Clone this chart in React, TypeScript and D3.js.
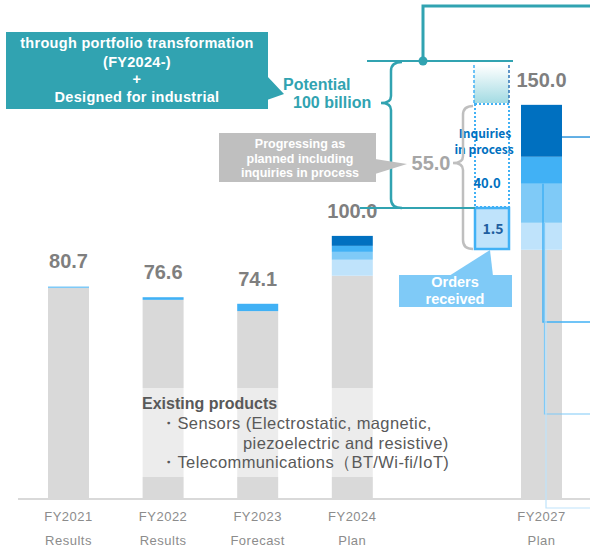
import React from "react";
import * as d3 from "d3";

// ---- data ----
const slots = ["FY2021", "FY2022", "FY2023", "FY2024", "", "FY2027"];
const categories = ["FY2021", "FY2022", "FY2023", "FY2024", "FY2027"];
const periodLabels = ["Results", "Results", "Forecast", "Plan", "Plan"];
const existing = [80.1, 75.6, 71.3, 84.8, 94.7];
const newLightest = [0, 0, 0, 6.1, 10.3];
const newLight = [0.6, 0, 0, 3.0, 14.9];
const newMedium = [0, 1.0, 2.8, 2.3, 10.3];
const newDark = [0, 0, 0, 3.8, 19.8];
const totalLabels = ["80.7", "76.6", "74.1", "100.0", "150.0"];
const seriesKeys = ["existing", "lightest", "light", "medium", "dark"];
const seriesColors = ["#d9d9d9", "#bfe3fb", "#7fcaf7", "#41b1f5", "#0070c0"];

const TEAL = "#31a3b1";
const W = 590;
const H = 549;

export default function App() {
  const rows = categories.map((c, i) => ({
    cat: c,
    existing: existing[i],
    lightest: newLightest[i],
    light: newLight[i],
    medium: newMedium[i],
    dark: newDark[i],
  }));
  const stacked = d3.stack<any>().keys(seriesKeys)(rows);
  const x = d3.scalePoint<string>().domain(slots).range([68.5, 541.5]);
  const y = d3.scaleLinear().domain([0, 190]).range([498, 0]);
  const bw = 41;
  const totals = rows.map((r) => seriesKeys.reduce((s, k) => s + (r as any)[k], 0));

  const font = "'Liberation Sans', Arial, sans-serif";
  const jfont = "'Noto Sans CJK JP', 'Noto Sans', sans-serif";

  const x27 = x("FY2027")!;
  const top27 = stacked.map((s) => s[4]);
  const darkLeaderY = y(top27[4][0] + 0.38 * (top27[4][1] - top27[4][0]));

  return (
    <svg width={W} height={H} style={{ position: "absolute", left: 0, top: 0, background: "#fff" }}>
      <defs>
        <clipPath id="titleClip">
          <rect x={6} y={32} width={262} height={77} />
        </clipPath>
        <linearGradient id="potGrad" x1="0" y1="0" x2="0" y2="1">
          <stop offset="0" stopColor="#ffffff" />
          <stop offset="1" stopColor="#a3dbe3" />
        </linearGradient>
      </defs>

      {/* axis line */}
      <line x1={18} x2={590} y1={y(0) + 1} y2={y(0) + 1} stroke="#d9d9d9" strokeWidth={2} />

      {/* bars */}
      {stacked.map((s, si) =>
        s.map((d, i) =>
          d[1] - d[0] > 0 ? (
            <rect
              key={`${si}-${i}`}
              x={x(categories[i])! - bw / 2}
              y={y(d[1])}
              width={bw}
              height={y(d[0]) - y(d[1])}
              fill={seriesColors[si]}
            />
          ) : null
        )
      )}

      {/* total labels */}
      {categories.map((c, i) => (
        <text
          key={c}
          x={x(c)!}
          y={y(totals[i]) - 18}
          textAnchor="middle"
          fontFamily={font}
          fontWeight="bold"
          fontSize={20}
          fill="#7f7f7f"
        >
          {totalLabels[i]}
        </text>
      ))}

      {/* axis labels */}
      {categories.map((c, i) => (
        <g key={"ax" + c} fontFamily={font} fontSize={13} fill="#8c8c8c" textAnchor="middle" letterSpacing={0.5}>
          <text x={x(c)!} y={521}>{c}</text>
          <text x={x(c)!} y={545}>{periodLabels[i]}</text>
        </g>
      ))}

      {/* existing products overlay + text */}
      <rect x={142} y={388} width={320} height={89} fill="#ffffff" opacity={0.5} />
      <g fontFamily={font} fill="#595959">
        <text x={142} y={409} fontSize={16} fontWeight="bold">Existing products</text>
        <text x={160} y={429} fontSize={16.5} letterSpacing={0.4}>・Sensors (Electrostatic, magnetic,</text>
        <text x={243} y={448.5} fontSize={16.5} letterSpacing={0.4}>piezoelectric and resistive)</text>
        <text x={160} y={468} fontSize={16.5} letterSpacing={0.4}>・Telecommunications（BT/Wi-fi/IoT)</text>
      </g>

      {/* FY2027 leader lines */}
      <line x1={x27 + bw / 2} x2={590} y1={darkLeaderY} y2={darkLeaderY} stroke="#2f95dc" strokeWidth={1.5} />
      <polyline points={`543,${y(top27[2][1])} 543,322 590,322`} fill="none" stroke="#41b1f5" strokeWidth={1.5} />
      <polyline points={`544.5,${y(top27[1][1])} 544.5,414 590,414`} fill="none" stroke="#7fcaf7" strokeWidth={1.2} />
      <polyline points={`546,${y(top27[0][1])} 546,508 590,508`} fill="none" stroke="#bfe3fb" strokeWidth={1.2} />

      {/* title box */}
      <rect x={6} y={32} width={262} height={77} fill={TEAL} />
      <polygon points="267,76 284,94 267,100" fill={TEAL} />
      <g clipPath="url(#titleClip)" fontFamily={font} fontWeight="bold" fontSize={14.5} letterSpacing={0.3} fill="#ffffff" textAnchor="middle">
        <text x={137} y={48}>through portfolio transformation</text>
        <text x={137} y={67}>(FY2024-)</text>
        <text x={137} y={84}>+</text>
        <text x={137} y={102}>Designed for industrial</text>
        <text x={137} y={121}>and consumer products</text>
      </g>

      {/* top connector */}
      <polyline points="590,6 423,6 423,61" fill="none" stroke={TEAL} strokeWidth={3} />
      <line x1={367} x2={513} y1={61} y2={61} stroke={TEAL} strokeWidth={2} />
      <circle cx={423} cy={61} r={4.5} fill={TEAL} />

      {/* Potential text */}
      <g fontFamily={font} fontWeight="bold" fontSize={16} fill={TEAL}>
        <text x={283} y={90}>Potential</text>
        <text x={293} y={108}>100 billion</text>
      </g>

      {/* teal brace */}
      <path
        d="M402,62 Q391,62 391,71 L391,96 Q391,103 381,103 Q391,103 391,110 L391,199 Q391,208 402,208"
        fill="none"
        stroke={TEAL}
        strokeWidth={2.5}
      />

      {/* potential gradient box */}
      <rect x={474} y={65} width={35} height={38} fill="url(#potGrad)" />
      <line x1={474} x2={474} y1={65} y2={103} stroke="#41b1f5" strokeWidth={1.5} strokeDasharray="3,2" />
      <line x1={509} x2={509} y1={65} y2={103} stroke="#2e75b6" strokeWidth={1.5} strokeDasharray="3,2" />

      {/* inquiries dotted box */}
      <rect x={475} y={104} width={34} height={103} fill="none" stroke="#41b1f5" strokeWidth={2} strokeDasharray="2,2" />
      <g fontFamily={jfont} fontWeight="bold" fill="#0070c0" textAnchor="middle">
        <text x={485} y={138} fontSize={12}>Inquiries</text>
        <text x={484} y={154} fontSize={12}>in process</text>
        <text x={487} y={188} fontSize={13}>40.0</text>
      </g>

      {/* orders received box (1.5) */}
      <rect x={475} y={208} width={34} height={41} fill="#bfe3fb" stroke="#41b1f5" strokeWidth={2.5} />
      <text x={493} y={234} textAnchor="middle" fontFamily={jfont} fontWeight="bold" fontSize={14} fill="#1f5fa0">
        1.5
      </text>

      {/* grey brace */}
      <path
        d="M473,106 Q463,106 463,115 L463,156 Q463,163 453,163 Q463,163 463,170 L463,240 Q463,249 473,249"
        fill="none"
        stroke="#bfbfbf"
        strokeWidth={2.5}
      />
      <text x={431} y={170} textAnchor="middle" fontFamily={font} fontWeight="bold" fontSize={20} fill="#a6a6a6">
        55.0
      </text>

      {/* grey callout */}
      <rect x={219} y={133} width={157} height={49} fill="#bfbfbf" />
      <polygon points="375,159 407,164 375,174" fill="#bfbfbf" />
      <g fontFamily={font} fontWeight="bold" fontSize={12.5} fill="#ffffff" textAnchor="middle">
        <text x={300} y={148}>Progressing as</text>
        <text x={300} y={163}>planned including</text>
        <text x={300} y={177}>inquiries in process</text>
      </g>

      {/* teal line through 100.0 */}
      <line x1={360} x2={475} y1={208} y2={208} stroke={TEAL} strokeWidth={2} />

      {/* orders received callout */}
      <polygon points="449,276 490,250 493,276" fill="#7fcaf7" />
      <rect x={399} y={275} width={113} height={32} fill="#7fcaf7" />
      <g fontFamily={font} fontWeight="bold" fontSize={14.5} fill="#ffffff" textAnchor="middle">
        <text x={455} y={287}>Orders</text>
        <text x={455} y={304}>received</text>
      </g>
    </svg>
  );
}
